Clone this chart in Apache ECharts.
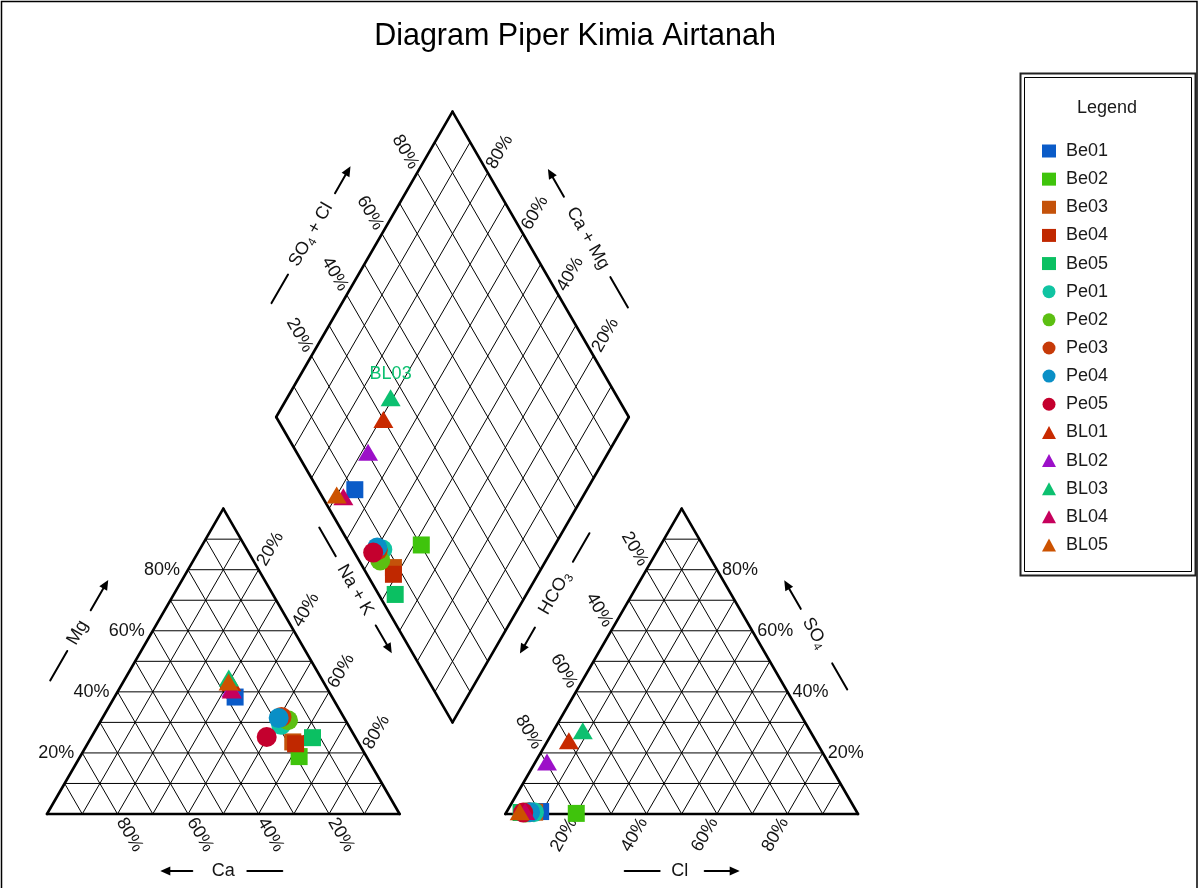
<!DOCTYPE html>
<html>
<head>
<meta charset="utf-8">
<title>Diagram Piper Kimia Airtanah</title>
<script src="https://cdn.jsdelivr.net/npm/echarts@6/dist/echarts.min.js"></script>
<style>
  html, body { margin: 0; padding: 0; background: #fff; }
  #chart { width: 1199px; height: 888px; }
</style>
</head>
<body>
<div id="chart"></div>
<script>
// ---- Samples ----
const samples = ['Be01', 'Be02', 'Be03', 'Be04', 'Be05', 'Pe01', 'Pe02', 'Pe03', 'Pe04', 'Pe05', 'BL01', 'BL02', 'BL03', 'BL04', 'BL05'];
const sampleSymbols = ['rect', 'rect', 'rect', 'rect', 'rect', 'circle', 'circle', 'circle', 'circle', 'circle', 'triangle', 'triangle', 'triangle', 'triangle', 'triangle'];
const sampleColors = ['#0a5bc8', '#3fc40c', '#c4520a', '#c02800', '#0bc062', '#10c4a2', '#5cbf12', '#c63a08', '#0a8fc6', '#c4002e', '#c82a00', '#9c10c8', '#0cc070', '#c6005c', '#cc5200'];
const labelledSamples = ['BL03'];

// ---- Cations, percent of meq ----
const caPct  = [27.5, 19.1, 18.5, 18.0, 12.2, 19.0, 16.3, 17.6, 18.6, 25.1, 26.2, 27.2, 26.2, 27.3, 26.9];
const mgPct  = [38.3, 18.8, 23.6, 23.0, 25.0, 29.2, 30.7, 31.8, 31.4, 25.2, 43.0, 41.0, 44.5, 40.6, 43.2];
const naKPct = [34.2, 62.1, 57.9, 59.0, 62.8, 51.8, 53.0, 50.6, 50.0, 49.7, 30.8, 31.8, 29.3, 32.1, 29.9];

// ---- Anions, percent of meq ----
const hco3Pct = [89.6, 79.8, 91.4, 92.5, 95.3, 91.6, 94.0, 93.0, 92.7, 94.7, 70.0, 79.7, 64.4, 94.0, 95.6];
const so4Pct  = [0.8, 0.2, 0.6, 0.6, 0.5, 0.6, 0.5, 0.6, 0.6, 0.5, 24.0, 17.0, 27.3, 0.8, 0.7];
const clPct   = [9.6, 20.0, 8.0, 6.9, 4.2, 7.8, 5.5, 6.4, 6.7, 4.8, 6.0, 3.3, 8.3, 5.2, 3.7];

// ---- Axis ticks ----
const gridSteps = [10, 20, 30, 40, 50, 60, 70, 80, 90];
const tickValues = [20, 40, 60, 80];

// ---- Piper geometry (triangle side = 100 units) ----
const H = Math.sqrt(3) / 2;
const GAP = 30;
const FONT = '"Liberation Sans", Arial, sans-serif';

// cation triangle: Ca lower-left, Na+K lower-right, Mg apex
function cat(ca, mg, na) {
  const t = ca + mg + na;
  return [100 * (na + mg / 2) / t, 100 * mg * H / t];
}
// anion triangle: HCO3 lower-left, Cl lower-right, SO4 apex
function an(hc, so, cl) {
  const t = hc + so + cl;
  return [100 + GAP + 100 * (cl + so / 2) / t, 100 * so * H / t];
}
// diamond: projected from Na+K % and SO4+Cl %
function dia(nak, sc) {
  const c = 100 - nak;
  return [100 + GAP / 2 + (sc - c) / 2, GAP * H + (sc + c) * H];
}

// rich-text styles for chemical formulas with subscripts
const formulaRich = {
  a: { fontSize: 18, fontFamily: FONT, lineHeight: 22, fill: '#141414', color: '#141414' },
  s: { fontSize: 12, fontFamily: FONT, lineHeight: 12, verticalAlign: 'bottom', fill: '#141414', color: '#141414' }
};

function drawFrame(params, api) {
  const kids = [];
  const px = u => api.coord(u);
  const line = (p, q, w, color) => kids.push({
    type: 'line', silent: true,
    shape: { x1: p[0], y1: p[1], x2: q[0], y2: q[1] },
    style: { stroke: color || '#000', lineWidth: w, lineCap: 'round' }
  });
  const seg = (a, b, w) => line(px(a), px(b), w);
  const unit = (p, q) => {
    const dx = q[0] - p[0], dy = q[1] - p[1], l = Math.hypot(dx, dy);
    return [dx / l, dy / l];
  };
  const text = (x, y, str, rot, align, size) => kids.push({
    type: 'text', silent: true, x: x, y: y, rotation: rot || 0,
    style: {
      text: str, font: (size || 18) + 'px ' + FONT, fill: '#141414',
      align: align || 'center', verticalAlign: 'middle',
      textAlign: align || 'center', textVerticalAlign: 'middle',
      rich: formulaRich
    }
  });

  // ---- inner grid ----
  gridSteps.forEach(k => {
    seg(cat(100 - k, k, 0), cat(0, k, 100 - k), 1);
    seg(cat(k, 0, 100 - k), cat(k, 100 - k, 0), 1);
    seg(cat(100 - k, 0, k), cat(0, 100 - k, k), 1);
    seg(an(100 - k, k, 0), an(0, k, 100 - k), 1);
    seg(an(k, 0, 100 - k), an(k, 100 - k, 0), 1);
    seg(an(100 - k, 0, k), an(0, 100 - k, k), 1);
    seg(dia(100, k), dia(0, k), 1);
    seg(dia(100 - k, 0), dia(100 - k, 100), 1);
  });

  // ---- outlines ----
  const cCa = cat(100, 0, 0), cNa = cat(0, 0, 100), cMg = cat(0, 100, 0);
  const aHc = an(100, 0, 0), aCl = an(0, 0, 100), aSo = an(0, 100, 0);
  const dL = dia(0, 0), dB = dia(100, 0), dR = dia(100, 100), dT = dia(0, 100);
  [[cCa, cNa], [cNa, cMg], [cMg, cCa], [aHc, aCl], [aCl, aSo], [aSo, aHc],
   [dL, dB], [dB, dR], [dR, dT], [dT, dL]].forEach(e => seg(e[0], e[1], 2.6));

  // ---- tick labels running along grid-line extensions ----
  const along = (inner, base, dist, rot, str) => {
    const p = px(base), d = unit(px(inner), p);
    text(p[0] + d[0] * dist, p[1] + d[1] * dist, str, rot);
  };
  const R = Math.PI / 3;
  tickValues.forEach(k => {
    const s = k + '%';
    // cation
    const pm = px(cat(100 - k, k, 0));
    text(pm[0] - 8, pm[1], s, 0, 'right');
    along(cat(k, 100 - k, 0), cat(k, 0, 100 - k), 24, -R, s);
    along(cat(100 - k, 0, k), cat(0, 100 - k, k), 24, R, s);
    // anion
    const ps = px(an(0, k, 100 - k));
    text(ps[0] + 5, ps[1], s, 0, 'left');
    along(an(k, 0, 100 - k), an(k, 100 - k, 0), 24, -R, s);
    along(an(0, 100 - k, k), an(100 - k, 0, k), 24, R, s);
    // diamond
    along(dia(100, k), dia(0, k), 24, -R, s);
    along(dia(100 - k, 0), dia(100 - k, 100), 24, R, s);
  });

  // ---- axis titles with bar and arrow ----
  const centre = [115, 112.58];
  const title = (a, b, inside, s, h, str, rot, arr, bar) => {
    const p = px(a), q = px(b), c0 = px(inside);
    const e = unit(p, q);
    let n = [e[1], -e[0]];
    const mid = [(p[0] + q[0]) / 2, (p[1] + q[1]) / 2];
    if ((c0[0] - mid[0]) * n[0] + (c0[1] - mid[1]) * n[1] > 0) n = [-n[0], -n[1]];
    const c = [mid[0] + e[0] * s + n[0] * h, mid[1] + e[1] * s + n[1] * h];
    text(c[0], c[1], str, rot);
    // bar on the tail side
    line([c[0] - e[0] * bar[0], c[1] - e[1] * bar[0]], [c[0] - e[0] * bar[1], c[1] - e[1] * bar[1]], 2);
    // arrow on the head side
    const tail = [c[0] + e[0] * arr[0], c[1] + e[1] * arr[0]];
    const head = [c[0] + e[0] * arr[1], c[1] + e[1] * arr[1]];
    const nb = [head[0] - e[0] * 10, head[1] - e[1] * 10];
    line(tail, [head[0] - e[0] * 5, head[1] - e[1] * 5], 2);
    const pn = [-e[1], e[0]];
    kids.push({
      type: 'polygon', silent: true,
      shape: { points: [head, [nb[0] + pn[0] * 4.5, nb[1] + pn[1] * 4.5], [nb[0] - pn[0] * 4.5, nb[1] - pn[1] * 4.5]] },
      style: { fill: '#000' }
    });
  };
  title(cCa, cMg, cNa, -4, 64, 'Mg', R, [26, 61], [21, 55]);
  title(cNa, cCa, cMg, 0, 57, 'Ca', 0, [31, 63], [24, 59]);
  title(dL, dB, centre, 13, 18, 'Na + K', -R, [41, 73], [39, 72]);
  title(dR, dB, centre, 13, 24, '{a|HCO}{s|3}', R, [40, 70], [36, 69]);
  title(dL, dT, centre, -1, 61, '{a|SO}{s|4}{a| + Cl}', R, [48, 79], [46, 79]);
  title(dR, dT, centre, -1, 54, 'Ca + Mg', -R, [48, 80], [45, 80]);
  title(aCl, aSo, aHc, 2, 53, '{a|SO}{s|4}', -R, [28, 61], [35, 65]);
  title(aHc, aCl, aSo, -2, 57, 'Cl', 0, [25, 60], [20, 55]);

  return { type: 'group', children: kids };
}

// ---- sample points: cation, anion and diamond positions ----
const symbolSizes = { rect: 17, circle: 20, triangle: [20, 17] };
const pointSeries = samples.map((name, i) => {
  const ctot = caPct[i] + mgPct[i] + naKPct[i];
  const atot = hco3Pct[i] + so4Pct[i] + clPct[i];
  const pts = [
    cat(caPct[i], mgPct[i], naKPct[i]),
    an(hco3Pct[i], so4Pct[i], clPct[i]),
    dia(100 * naKPct[i] / ctot, 100 * (so4Pct[i] + clPct[i]) / atot)
  ];
  const data = pts.map((p, j) => {
    const item = { value: p };
    if (j === 2 && labelledSamples.includes(name)) {
      item.label = {
        show: true, position: 'top', distance: 6, formatter: name,
        color: sampleColors[i], fontSize: 18, fontFamily: FONT
      };
    }
    return item;
  });
  return {
    type: 'scatter', name: name, data: data, clip: false, silent: true, z: 3,
    symbol: sampleSymbols[i], symbolSize: symbolSizes[sampleSymbols[i]],
    itemStyle: { color: sampleColors[i], opacity: 1 },
    label: { show: false }
  };
});

const chart = echarts.init(document.getElementById('chart'), null, { renderer: 'canvas' });
chart.setOption({
  animation: false,
  backgroundColor: '#fff',
  textStyle: { fontFamily: FONT },
  grid: { left: 47, top: 108.78, width: 811, height: 705.22, containLabel: false },
  xAxis: { type: 'value', min: 0, max: 230, show: false },
  yAxis: { type: 'value', min: 0, max: 200, show: false },
  legend: {
    data: samples, orient: 'vertical', left: 1042, top: 141, padding: 0,
    itemWidth: 14, itemHeight: 13, itemGap: 8.14, selectedMode: false,
    formatter: name => ' ' + name,
    textStyle: { fontSize: 18, lineHeight: 20, color: '#1a1a1a', fontFamily: FONT }
  },
  graphic: [
    { type: 'rect', silent: true, shape: { x: 1.5, y: 1.5, width: 1195.5, height: 900 },
      style: { fill: 'none', stroke: '#000', lineWidth: 1.5 } },
    { type: 'text', silent: true, x: 575, y: 37,
      style: { text: 'Diagram Piper Kimia Airtanah', font: '30.5px ' + FONT, fill: '#000',
               align: 'center', verticalAlign: 'middle', textAlign: 'center', textVerticalAlign: 'middle' } },
    { type: 'rect', silent: true, shape: { x: 1020.5, y: 73.5, width: 175, height: 502 },
      style: { fill: 'none', stroke: '#222', lineWidth: 2 } },
    { type: 'rect', silent: true, shape: { x: 1024.5, y: 77.5, width: 167, height: 494 },
      style: { fill: 'none', stroke: '#000', lineWidth: 1 } },
    { type: 'text', silent: true, x: 1107, y: 108,
      style: { text: 'Legend', font: '18px ' + FONT, fill: '#1a1a1a',
               align: 'center', verticalAlign: 'middle', textAlign: 'center', textVerticalAlign: 'middle' } }
  ],
  series: [
    { type: 'custom', name: 'piper-frame', coordinateSystem: 'cartesian2d', silent: true, z: 1,
      data: [[0, 0]], renderItem: drawFrame }
  ].concat(pointSeries)
});
</script>
</body>
</html>
